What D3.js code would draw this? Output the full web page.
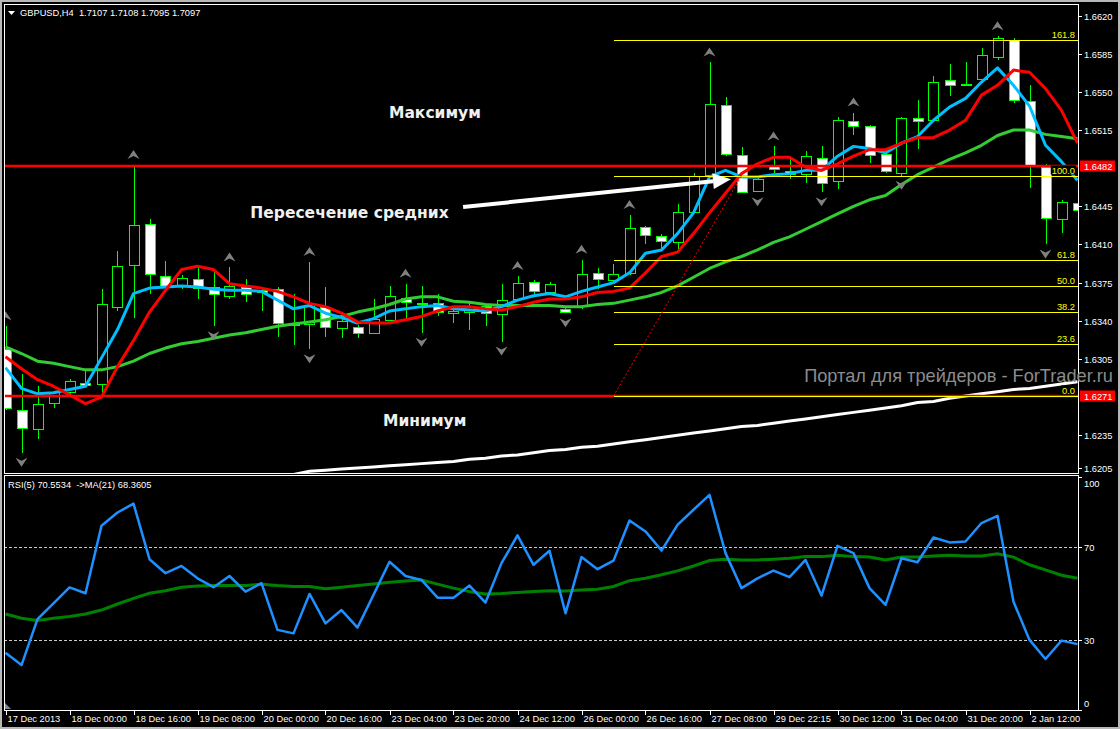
<!DOCTYPE html>
<html>
<head>
<meta charset="utf-8">
<script src="https://cdn.jsdelivr.net/npm/d3@7"></script>
<style>
  body { margin: 0; background: #000; overflow: hidden; }
  text { font-family: "Liberation Sans", Arial, sans-serif; }
</style>
</head>
<body>
<svg id="chart"></svg>
<script>
// ---- data ----
const tickBars = [0, 4, 8, 12, 16, 20, 24, 28, 32, 36, 40, 44, 48, 52, 56, 60, 64];
const tickLabels = ["17 Dec 2013", "18 Dec 00:00", "18 Dec 16:00", "19 Dec 08:00", "20 Dec 00:00",
  "20 Dec 16:00", "23 Dec 04:00", "23 Dec 20:00", "24 Dec 12:00", "26 Dec 00:00", "26 Dec 16:00",
  "27 Dec 08:00", "29 Dec 22:15", "30 Dec 12:00", "31 Dec 04:00", "31 Dec 20:00", "2 Jan 12:00"];

const opens = [1.6314,1.6258,1.6241,1.6265,1.6275,1.6283,1.6282,1.6353,1.6391,1.6429,
  1.6381,1.6372,1.6378,1.6371,1.6363,1.6371,1.6368,1.6369,1.6337,1.6337,
  1.6353,1.6333,1.6334,1.6329,1.6341,1.6361,1.6355,1.6356,1.6347,1.6348,
  1.6354,1.6346,1.6360,1.6376,1.6366,1.6351,1.6354,1.6384,1.6377,1.6384,
  1.6426,1.6418,1.6412,1.6440,1.6474,1.6538,1.6492,1.6459,1.6483,1.6477,
  1.6475,1.6489,1.6468,1.6523,1.6519,1.6493,1.6476,1.6526,1.6524,1.6561,
  1.6557,1.6562,1.6582,1.6598,1.6542,1.6481,1.6433,1.6448];
const highs = [1.6335,1.6291,1.6280,1.6276,1.6287,1.6296,1.6369,1.6404,1.6483,1.6433,
  1.6395,1.6382,1.6388,1.6387,1.6389,1.6378,1.6369,1.6371,1.6365,1.6394,
  1.6371,1.6347,1.6336,1.6360,1.6372,1.6374,1.6372,1.6365,1.6354,1.6356,
  1.6355,1.6374,1.6381,1.6377,1.6376,1.6354,1.6396,1.6388,1.6392,1.6437,
  1.6427,1.6420,1.6447,1.6476,1.6577,1.6545,1.6499,1.6471,1.6500,1.6488,
  1.6496,1.6500,1.6527,1.6531,1.6520,1.6497,1.6527,1.6543,1.6565,1.6576,
  1.6577,1.6590,1.6601,1.6599,1.6556,1.6484,1.6451,1.6458];
const lows = [1.6258,1.6219,1.6232,1.6260,1.6271,1.6280,1.6274,1.6349,1.6343,1.6365,
  1.6366,1.6369,1.6360,1.6335,1.6360,1.6357,1.6349,1.6325,1.6318,1.6314,
  1.6325,1.6324,1.6324,1.6328,1.6340,1.6340,1.6329,1.6344,1.6338,1.6332,
  1.6335,1.6321,1.6359,1.6365,1.6365,1.6347,1.6351,1.6369,1.6376,1.6382,
  1.6410,1.6405,1.6405,1.6439,1.6472,1.6491,1.6457,1.6458,1.6476,1.6470,
  1.6466,1.6458,1.6461,1.6510,1.6485,1.6476,1.6473,1.6498,1.6523,1.6546,
  1.6556,1.6559,1.6579,1.6540,1.6462,1.6410,1.6421,1.6440];
const closes = [1.6260,1.6242,1.6264,1.6275,1.6285,1.6281,1.6355,1.6390,1.6428,1.6383,
  1.6371,1.6379,1.6370,1.6365,1.6372,1.6365,1.6366,1.6338,1.6337,1.6354,
  1.6334,1.6340,1.6329,1.6342,1.6363,1.6357,1.6356,1.6348,1.6349,1.6353,
  1.6347,1.6359,1.6375,1.6367,1.6374,1.6348,1.6383,1.6378,1.6383,1.6425,
  1.6419,1.6413,1.6440,1.6473,1.6539,1.6493,1.6458,1.6470,1.6479,1.6475,
  1.6491,1.6466,1.6524,1.6519,1.6492,1.6477,1.6526,1.6523,1.6559,1.6556,
  1.6557,1.6584,1.6599,1.6543,1.6482,1.6434,1.6449,1.6442];

// moving averages on the price panel
const maFast = [1.6297,1.6278,1.6273,1.6274,1.6277,1.6280,1.6306,1.6332,1.6365,1.6370,
  1.6371,1.6372,1.6371,1.6369,1.6368,1.6368,1.6367,1.6359,1.6351,1.6354,
  1.6347,1.6343,1.6338,1.6342,1.6349,1.6351,1.6353,1.6354,1.6351,1.6350,
  1.6349,1.6353,1.6359,1.6363,1.6365,1.6362,1.6367,1.6371,1.6375,1.6384,
  1.6402,1.6405,1.6420,1.6439,1.6472,1.6478,1.6472,1.6472,1.6474,1.6475,
  1.6478,1.6478,1.6491,1.6500,1.6498,1.6494,1.6503,1.6509,1.6524,1.6536,
  1.6544,1.6559,1.6572,1.6556,1.6537,1.6501,1.6486,1.6469];
const maMid = [1.6307,1.6296,1.6286,1.6280,1.6272,1.6264,1.6270,1.6298,1.6322,1.6348,
  1.6368,1.6387,1.6390,1.6387,1.6374,1.6372,1.6370,1.6367,1.6362,1.6356,
  1.6353,1.6347,1.6339,1.6338,1.6338,1.6341,1.6344,1.6349,1.6353,1.6353,
  1.6351,1.6350,1.6353,1.6357,1.6360,1.6360,1.6362,1.6366,1.6367,1.6370,
  1.6384,1.6399,1.6403,1.6420,1.6439,1.6457,1.6475,1.6484,1.6490,1.6490,
  1.6481,1.6478,1.6484,1.6491,1.6497,1.6497,1.6503,1.6508,1.6508,1.6515,
  1.6524,1.6547,1.6556,1.6570,1.6568,1.6553,1.6533,1.6503];
const maSlow = [1.6316,1.6310,1.6303,1.6301,1.6298,1.6295,1.6295,1.6298,1.6303,1.6310,
  1.6315,1.6319,1.6321,1.6324,1.6327,1.6329,1.6332,1.6335,1.6337,1.6339,
  1.6341,1.6344,1.6348,1.6351,1.6355,1.6360,1.6362,1.6362,1.6358,1.6357,
  1.6355,1.6354,1.6354,1.6354,1.6354,1.6353,1.6353,1.6355,1.6356,1.6359,
  1.6362,1.6366,1.6372,1.6380,1.6388,1.6394,1.6399,1.6405,1.6412,1.6417,
  1.6424,1.6431,1.6438,1.6445,1.6451,1.6455,1.6465,1.6474,1.6481,1.6488,
  1.6494,1.6501,1.6510,1.6515,1.6515,1.6511,1.6509,1.6507];
const maLongStart = 17;
const maLong = [1.6197,1.6199,1.6202,1.6203,1.6204,1.6205,1.6206,1.6207,1.6208,1.6209,
  1.6210,1.6211,1.6213,1.6214,1.6216,1.6217,1.6219,1.6221,1.6222,1.6224,
  1.6225,1.6227,1.6229,1.6231,1.6233,1.6235,1.6237,1.6239,1.6241,1.6243,
  1.6244,1.6246,1.6248,1.6250,1.6252,1.6254,1.6256,1.6258,1.6260,1.6262,
  1.6265,1.6266,1.6269,1.6271,1.6273,1.6275,1.6277,1.6278,1.6280,1.6282,1.6284];

const upFractals = [0, 8, 14, 19, 25, 32, 36, 39, 44, 48, 53, 62];
const downFractals = [1, 13, 19, 26, 31, 35, 47, 51, 56, 65];

const rsiValues = [24.5,19.2,38.9,45.7,52.5,50.0,78.9,84.6,88.4,64.6,
  58.6,61.7,56.4,52.6,57.4,50.7,54.3,34.3,32.8,49.7,
  37.1,42.8,35.3,49.3,63.5,57.4,55.7,48.1,48.1,53.3,
  46.0,62.9,74.8,62.2,68.2,41.4,65.5,60.3,64.0,81.2,
  76.5,68.3,79.3,85.8,92.2,67.2,52.2,56.4,59.7,56.9,
  64.3,49.0,70.3,67.2,52.2,45.0,65.0,63.3,73.9,71.8,
  72.2,80.1,83.2,46.4,30.0,21.8,29.7,28.2];
const rsiMa = [41.1,39.3,38.3,39.3,40.0,41.1,42.8,45.4,47.8,50.0,
  51.1,52.6,53.1,53.3,53.3,53.3,53.9,53.3,52.9,52.9,
  51.9,52.6,53.3,54.0,54.7,55.3,55.7,53.9,52.2,50.7,
  49.7,49.9,50.3,50.7,51.1,51.0,51.4,51.7,52.9,55.4,
  56.4,57.9,59.6,61.7,64.0,64.6,64.3,64.3,64.6,65.0,
  65.7,65.7,66.3,65.7,65.5,64.3,65.5,65.5,66.0,66.3,
  66.0,66.0,66.9,65.5,62.2,60.0,57.7,56.4];

const priceTicks = [1.6620, 1.6585, 1.6550, 1.6515, 1.6445, 1.6410, 1.6375, 1.6340, 1.6305, 1.6235, 1.6205];
const rsiTicks = [100, 70, 30, 0];
const rsiLevels = [70, 30];
const maxLevel = 1.6482, minLevel = 1.6271;
const fibLevels = [0, 23.6, 38.2, 50, 61.8, 100, 161.8];
const fibFrom = { bar: 38, price: 1.6271 }, fibTo = { bar: 46, price: 1.6473 };

// ---- layout ----
const W = 1120, H = 729;
const frame = { left: 4, right: 1078, top: 4, bottom: 473, rsiTop: 475, rsiBottom: 710 };
const smallFont = 9.3;

let svg, xScale, yScale, rsiScale, mainG, rsiG;

function setup() {
  svg = d3.select("#chart").attr("width", W).attr("height", H);
  svg.append("rect").attr("width", W).attr("height", H).attr("fill", "#000");

  xScale = d3.scaleLinear().domain([0, 67]).range([5.5, 1077.5]);
  yScale = d3.scaleLinear().domain([1.62004, 1.66306]).range([frame.bottom, frame.top]);
  rsiScale = d3.scaleLinear().domain([0, 100]).range([709.9, 476.6]);

  const defs = svg.append("defs");
  defs.append("clipPath").attr("id", "clipMain").append("rect")
    .attr("x", frame.left).attr("y", frame.top)
    .attr("width", frame.right - frame.left).attr("height", frame.bottom - frame.top);
  defs.append("clipPath").attr("id", "clipRsi").append("rect")
    .attr("x", frame.left).attr("y", frame.rsiTop)
    .attr("width", frame.right - frame.left).attr("height", frame.rsiBottom - frame.rsiTop);

  mainG = svg.append("g").attr("clip-path", "url(#clipMain)");
  rsiG = svg.append("g").attr("clip-path", "url(#clipRsi)");
}

function drawCandles() {
  const bars = d3.range(opens.length).map((i) => ({
    i, o: opens[i], h: highs[i], l: lows[i], c: closes[i],
  }));
  const g = mainG.append("g").attr("shape-rendering", "crispEdges");

  g.selectAll("line").data(bars).join("line")
    .attr("x1", (d) => Math.round(xScale(d.i)) + 0.5)
    .attr("x2", (d) => Math.round(xScale(d.i)) + 0.5)
    .attr("y1", (d) => yScale(d.h))
    .attr("y2", (d) => yScale(d.l))
    .attr("stroke", "#00ff00");

  g.selectAll("rect").data(bars).join("rect")
    .attr("x", (d) => Math.round(xScale(d.i)) - 4.5)
    .attr("y", (d) => Math.round(yScale(Math.max(d.o, d.c))) + 0.5)
    .attr("width", 10)
    .attr("height", (d) =>
      Math.max(1, Math.round(yScale(Math.min(d.o, d.c))) - Math.round(yScale(Math.max(d.o, d.c)))))
    .attr("fill", (d) => (d.c > d.o ? "#000" : "#fff"))
    .attr("stroke", "#00ff00");
}

function drawAverages() {
  const line = d3.line().x((d, i) => xScale(i)).y((d) => yScale(d));
  const series = [
    { data: maSlow, color: "#32cd32" },
    { data: maFast, color: "#00bfff" },
    { data: maMid, color: "#ff0000" },
  ];
  series.forEach((s) => {
    mainG.append("path").datum(s.data)
      .attr("d", line)
      .attr("fill", "none")
      .attr("stroke", s.color)
      .attr("stroke-width", 3)
      .attr("stroke-linejoin", "round");
  });

  const longLine = d3.line()
    .x((d, i) => xScale(i + maLongStart))
    .y((d) => yScale(d));
  mainG.append("path").datum(maLong)
    .attr("d", longLine)
    .attr("fill", "none")
    .attr("stroke", "#fff")
    .attr("stroke-width", 3);

  // fractal arrows
  const arrow = "M0,-5L6,4L0,1L-6,4Z";
  mainG.selectAll("path.up").data(upFractals).join("path")
    .attr("class", "up")
    .attr("d", arrow)
    .attr("transform", (i) => `translate(${xScale(i)},${yScale(highs[i]) - 10})`)
    .attr("fill", "#808080");
  mainG.selectAll("path.down").data(downFractals).join("path")
    .attr("class", "down")
    .attr("d", arrow)
    .attr("transform", (i) => `translate(${xScale(i)},${yScale(lows[i]) + 9}) scale(1,-1)`)
    .attr("fill", "#808080");
}

function drawObjects() {
  const g = mainG.append("g");

  // horizontal max / min lines
  [maxLevel, minLevel].forEach((p) => {
    g.append("line")
      .attr("x1", frame.left).attr("x2", frame.right)
      .attr("y1", yScale(p)).attr("y2", yScale(p))
      .attr("stroke", "#ff0000").attr("stroke-width", 2.5);
  });

  // fibonacci levels
  const range = fibTo.price - fibFrom.price;
  const x0 = xScale(fibFrom.bar);
  fibLevels.forEach((lvl) => {
    const y = Math.round(yScale(fibFrom.price + (lvl / 100) * range)) + 0.5;
    g.append("line")
      .attr("x1", x0).attr("x2", frame.right)
      .attr("y1", y).attr("y2", y)
      .attr("stroke", "#ffff00").attr("stroke-width", 1)
      .attr("shape-rendering", "crispEdges");
    const t = g.append("text")
      .attr("x", frame.right - 3).attr("y", y - 3)
      .attr("text-anchor", "end")
      .attr("font-size", smallFont)
      .attr("fill", "#ffff00")
      .text(lvl.toFixed(1));
    const b = t.node().getBBox();
    g.insert("rect", () => t.node())
      .attr("x", b.x - 1).attr("y", b.y)
      .attr("width", b.width + 2).attr("height", b.height - 1)
      .attr("fill", "#000");
  });

  // fibo base trend line
  g.append("line")
    .attr("x1", xScale(fibFrom.bar)).attr("y1", yScale(fibFrom.price))
    .attr("x2", xScale(fibTo.bar)).attr("y2", yScale(fibTo.price))
    .attr("stroke", "#ff0000").attr("stroke-width", 1)
    .attr("stroke-dasharray", "2,2");

  // text annotations
  const notes = [
    { text: "Максимум", bar: 26.84, price: 1.65263 },
    { text: "Пересечение средних", bar: 21.5, price: 1.64343 },
    { text: "Минимум", bar: 26.2, price: 1.62435 },
  ];
  g.selectAll("text.note").data(notes).join("text")
    .attr("class", "note")
    .attr("x", (d) => xScale(d.bar))
    .attr("y", (d) => yScale(d.price))
    .attr("text-anchor", "middle")
    .style("font-family", "'DejaVu Sans', Verdana, sans-serif")
    .style("font-weight", "bold")
    .style("font-size", "15.5px")
    .attr("fill", "#f0f0f0")
    .text((d) => d.text);

  // arrow pointing at the crossing
  const tail = [xScale(28.6), yScale(1.64444)];
  const tip = [xScale(45.34), yScale(1.64698)];
  const dx = tip[0] - tail[0], dy = tip[1] - tail[1];
  const len = Math.hypot(dx, dy);
  const ux = dx / len, uy = dy / len;
  const base = [tip[0] - 18 * ux, tip[1] - 18 * uy];
  g.append("line")
    .attr("x1", tail[0]).attr("y1", tail[1])
    .attr("x2", base[0]).attr("y2", base[1])
    .attr("stroke", "#fff").attr("stroke-width", 4);
  g.append("path")
    .attr("d", `M${tip[0]},${tip[1]}L${base[0] - 8 * uy},${base[1] + 8 * ux}L${base[0] + 8 * uy},${base[1] - 8 * ux}Z`)
    .attr("fill", "#fff");
}

function drawRsi() {
  rsiLevels.forEach((v) => {
    rsiG.append("line")
      .attr("x1", frame.left).attr("x2", frame.right)
      .attr("y1", Math.round(rsiScale(v)) + 0.5).attr("y2", Math.round(rsiScale(v)) + 0.5)
      .attr("stroke", "#c8c8c8").attr("stroke-dasharray", "3,2")
      .attr("shape-rendering", "crispEdges");
  });
  const line = d3.line().x((d, i) => xScale(i)).y((d) => rsiScale(d));
  rsiG.append("path").datum(rsiMa)
    .attr("d", line).attr("fill", "none")
    .attr("stroke", "#008000").attr("stroke-width", 3);
  rsiG.append("path").datum(rsiValues)
    .attr("d", line).attr("fill", "none")
    .attr("stroke", "#1e90ff").attr("stroke-width", 2.5)
    .attr("stroke-linejoin", "round");
}

function drawFrameAndAxes() {
  // window border
  svg.append("rect")
    .attr("x", 1).attr("y", 1).attr("width", W - 2).attr("height", H - 2)
    .attr("fill", "none").attr("stroke", "#b8b8b8").attr("stroke-width", 2);

  const f = svg.append("g").attr("shape-rendering", "crispEdges")
    .attr("stroke", "#fff").attr("fill", "none");
  f.append("rect")
    .attr("x", frame.left + 0.5).attr("y", frame.top + 0.5)
    .attr("width", frame.right - frame.left).attr("height", frame.bottom - frame.top);
  f.append("rect")
    .attr("x", frame.left + 0.5).attr("y", frame.rsiTop + 0.5)
    .attr("width", frame.right - frame.left).attr("height", frame.rsiBottom - frame.rsiTop);

  // price axis
  const ax = svg.append("g");
  priceTicks.forEach((p) => {
    const y = Math.round(yScale(p)) + 0.5;
    ax.append("line").attr("x1", frame.right).attr("x2", frame.right + 4)
      .attr("y1", y).attr("y2", y).attr("stroke", "#fff")
      .attr("shape-rendering", "crispEdges");
    ax.append("text").attr("x", 1084).attr("y", y + 3.5)
      .attr("font-size", smallFont).attr("fill", "#fff")
      .text(p.toFixed(4));
  });
  [maxLevel, minLevel].forEach((p) => {
    const y = yScale(p);
    ax.append("rect").attr("x", 1080).attr("y", y - 5.5)
      .attr("width", 35).attr("height", 11).attr("fill", "#ff0000");
    ax.append("text").attr("x", 1084).attr("y", y + 3.5)
      .attr("font-size", smallFont).attr("fill", "#fff")
      .text(p.toFixed(4));
  });

  // rsi axis
  rsiTicks.forEach((v) => {
    const y = Math.round(rsiScale(v)) + 0.5;
    ax.append("line").attr("x1", frame.right).attr("x2", frame.right + 4)
      .attr("y1", y).attr("y2", y).attr("stroke", "#fff")
      .attr("shape-rendering", "crispEdges");
    const ty = Math.min(Math.max(y, 483), 703);
    ax.append("text").attr("x", 1084).attr("y", ty + 3.5)
      .attr("font-size", smallFont).attr("fill", "#fff")
      .text(v);
  });

  // time axis
  tickBars.forEach((b, k) => {
    const x = Math.round(xScale(b)) + 0.5;
    ax.append("line").attr("x1", x).attr("x2", x)
      .attr("y1", frame.rsiBottom).attr("y2", frame.rsiBottom + 5)
      .attr("stroke", "#fff").attr("shape-rendering", "crispEdges");
    ax.append("text").attr("x", x + 1).attr("y", 722)
      .attr("font-size", smallFont).attr("fill", "#fff")
      .text(tickLabels[k]);
  });

  // small gray shift marker
  ax.append("path").attr("d", "M5,703L5,709L11,709Z").attr("fill", "#7f8c99");

  // headers
  svg.append("path").attr("d", "M8,11L15,11L11.5,15Z").attr("fill", "#fff");
  svg.append("text").attr("x", 20).attr("y", 16)
    .attr("font-size", smallFont).attr("fill", "#fff")
    .attr("xml:space", "preserve")
    .text("GBPUSD,H4  1.7107 1.7108 1.7095 1.7097");
  svg.append("text").attr("x", 8).attr("y", 487.5)
    .attr("font-size", smallFont).attr("fill", "#fff")
    .attr("xml:space", "preserve")
    .text("RSI(5) 70.5534  ->MA(21) 68.3605");

  // watermark
  svg.append("text").attr("x", 1113).attr("y", 382)
    .attr("text-anchor", "end")
    .style("font-size", "18.2px")
    .attr("fill", "#8c8c8c")
    .text("Портал для трейдеров - ForTrader.ru");
}

setup();
drawCandles();
drawAverages();
drawRsi();
drawObjects();
drawFrameAndAxes();
</script>
</body>
</html>
